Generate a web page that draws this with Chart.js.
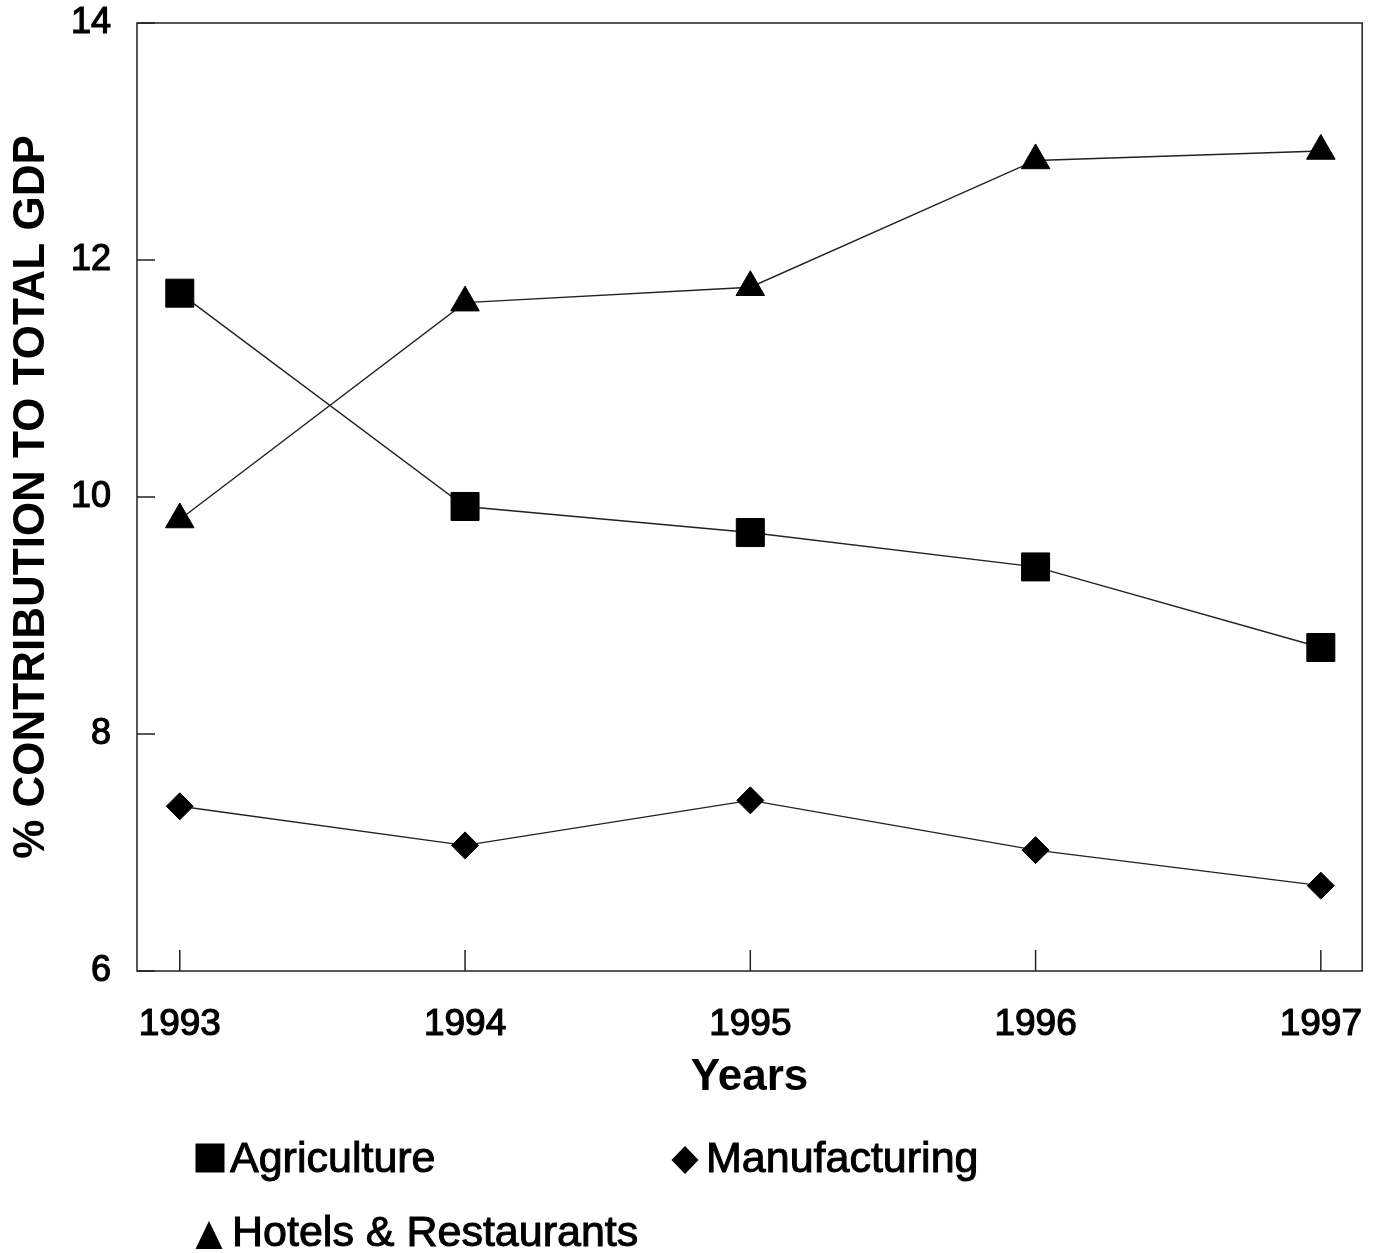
<!DOCTYPE html>
<html lang="en">
<head>
<meta charset="UTF-8">
<title>% Contribution to Total GDP</title>
<script src="https://cdn.jsdelivr.net/npm/chart.js"></script>
<style>
  body { margin: 0; background: #fff; }
  #wrap { width: 1383px; height: 1253px; }
</style>
</head>
<body>
<div id="wrap"><canvas id="gdpChart" width="1383" height="1253"></canvas></div>
<script>
// values
const years = [1993, 1994, 1995, 1996, 1997];
const agriculture = [11.72, 9.92, 9.70, 9.41, 8.73];
const manufacturing = [7.39, 7.06, 7.44, 7.02, 6.72];
const hotels = [9.81, 11.64, 11.77, 12.84, 12.92];
const yTicks = [6, 8, 10, 12, 14];
const seriesNames = ["Agriculture", "Manufacturing", "Hotels & Restaurants"];

const FONT = "'Liberation Sans', Arial, sans-serif";
Chart.defaults.font.family = FONT;
Chart.defaults.color = "#000";

function points(values) {
    return years.map((yr, i) => ({ x: yr, y: values[i] }));
}

// box round the plot plus the short inside tick marks
const framePlugin = {
    id: "frame",
    beforeDatasetsDraw(chart) {
        const { ctx, chartArea: a, scales } = chart;
        ctx.save();
        ctx.strokeStyle = "#222";
        ctx.lineWidth = 1.5;
        ctx.strokeRect(a.left, a.top, a.right - a.left, a.bottom - a.top);
        ctx.beginPath();
        scales.y.ticks.forEach(t => {
            const py = scales.y.getPixelForValue(t.value);
            ctx.moveTo(a.left, py);
            ctx.lineTo(a.left + 18, py);
        });
        scales.x.ticks.forEach(t => {
            const px = scales.x.getPixelForValue(t.value);
            ctx.moveTo(px, a.bottom);
            ctx.lineTo(px, a.bottom - 21);
        });
        ctx.stroke();
        ctx.restore();
    }
};

// legend in two columns under the chart
const legendSpots = [
    { mx: 210, my: 1158, tx: 230, ty: 1172 },
    { mx: 685, my: 1160, tx: 706, ty: 1172 },
    { mx: 209, my: 1236, tx: 232, ty: 1246 }
];
const legendPlugin = {
    id: "sideLegend",
    afterDraw(chart) {
        const ctx = chart.ctx;
        ctx.save();
        ctx.fillStyle = "#000";
        ctx.strokeStyle = "#000";
        ctx.lineWidth = 1;
        ctx.font = "43px " + FONT;
        ctx.textBaseline = "alphabetic";
        chart.data.datasets.forEach((ds, i) => {
            const s = legendSpots[i];
            ctx.beginPath();
            if (ds.pointStyle === "rect") {
                ctx.rect(s.mx - 14.5, s.my - 14.5, 29, 29);
            } else if (ds.pointStyle === "rectRot") {
                ctx.moveTo(s.mx, s.my - 14);
                ctx.lineTo(s.mx + 13.5, s.my);
                ctx.lineTo(s.mx, s.my + 14);
                ctx.lineTo(s.mx - 13.5, s.my);
            } else {
                ctx.moveTo(s.mx, s.my - 15);
                ctx.lineTo(s.mx + 13.5, s.my + 13);
                ctx.lineTo(s.mx - 13.5, s.my + 13);
            }
            ctx.closePath();
            ctx.fill();
            ctx.fillText(ds.label, s.tx, s.ty);
            ctx.strokeText(ds.label, s.tx, s.ty);
        });
        ctx.restore();
    }
};

function lineSet(label, values, style, radius) {
    return {
        label: label,
        data: points(values),
        borderColor: "#222",
        borderWidth: 1.4,
        pointStyle: style,
        pointRadius: radius,
        pointHoverRadius: radius,
        pointBackgroundColor: "#000",
        pointBorderColor: "#000",
        pointBorderWidth: 1,
        tension: 0,
        fill: false
    };
}

new Chart(document.getElementById("gdpChart"), {
    type: "line",
    data: {
        datasets: [
            lineSet(seriesNames[0], agriculture, "rect", 19.8),
            lineSet(seriesNames[1], manufacturing, "rectRot", 13.5),
            lineSet(seriesNames[2], hotels, "triangle", 16.5)
        ]
    },
    options: {
        responsive: false,
        animation: false,
        layout: { padding: { left: 0, right: 20, top: 23, bottom: 130 } },
        plugins: {
            legend: { display: false },
            tooltip: { enabled: false }
        },
        scales: {
            x: {
                type: "linear",
                min: 1992.85,
                max: 1997.145,
                afterBuildTicks: s => { s.ticks = years.map(v => ({ value: v })); },
                afterFit: s => {
                    s.height = 152;
                    s.paddingLeft = 0;
                    s.paddingRight = 0;
                },
                grid: { display: false },
                border: { display: false },
                ticks: {
                    padding: 24,
                    color: "#000",
                    font: { size: 37 },
                    textStrokeColor: "#000",
                    textStrokeWidth: 1.2,
                    maxRotation: 0,
                    callback: v => String(v)
                },
                title: {
                    display: true,
                    text: "Years",
                    color: "#000",
                    font: { size: 44, weight: "bold" },
                    padding: { top: 0, bottom: 19 }
                }
            },
            y: {
                min: 6,
                max: 14,
                afterBuildTicks: s => { s.ticks = yTicks.map(v => ({ value: v })); },
                afterFit: s => {
                    s.width = 137;
                    s.paddingTop = 0;
                    s.paddingBottom = 0;
                },
                grid: { display: false },
                border: { display: false },
                ticks: {
                    padding: 18,
                    color: "#000",
                    font: { size: 36 },
                    textStrokeColor: "#000",
                    textStrokeWidth: 1.2
                },
                title: {
                    display: true,
                    text: "% CONTRIBUTION TO TOTAL GDP",
                    color: "#000",
                    font: { size: 44, weight: "bold" },
                    padding: { top: 5, bottom: 0 }
                }
            }
        }
    },
    plugins: [framePlugin, legendPlugin]
});
</script>
</body>
</html>
